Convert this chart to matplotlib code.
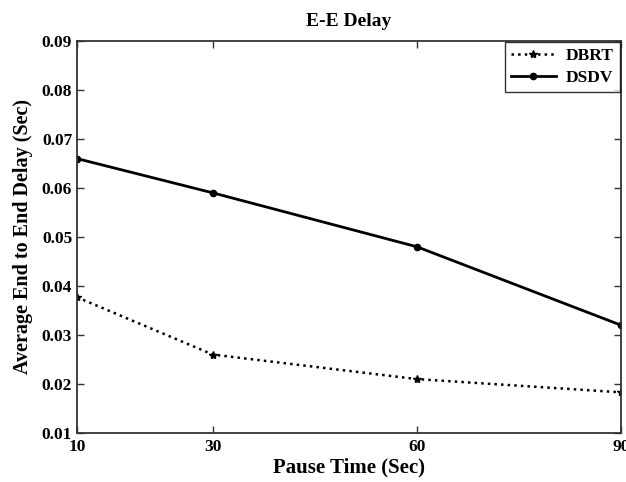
import matplotlib
matplotlib.use("Agg")
import matplotlib.pyplot as plt

pause_time = [10, 30, 60, 90]
dbrt = [0.0377, 0.026, 0.021, 0.0183]
dsdv = [0.066, 0.059, 0.048, 0.032]
yticks = [0.01, 0.02, 0.03, 0.04, 0.05, 0.06, 0.07, 0.08, 0.09]

plt.rcParams['font.family'] = ['Liberation Serif', 'DejaVu Serif']
plt.rcParams['font.weight'] = 'bold'

fig = plt.figure(figsize=(6.26, 4.82), dpi=100)
ax = fig.add_axes([77/626, 1-433/482, (621-77)/626, (433-41)/482])

ax.plot(pause_time, dbrt, linestyle=':', color='black', linewidth=1.8,
        marker='*', markersize=6, label='DBRT')
ax.plot(pause_time, dsdv, linestyle='-', color='black', linewidth=2.0,
        marker='o', markersize=4.5, label='DSDV')

ax.set_xlim(10, 90)
ax.set_ylim(0.01, 0.09)
ax.set_xticks(pause_time)
ax.set_xticklabels([str(v) for v in pause_time])
ax.set_yticks(yticks)
ax.set_yticklabels([f"{v:.2f}" for v in yticks])
ax.tick_params(direction='in', length=5, width=1, labelsize=12.5, top=True, right=True,
               color='#333333')
ax.tick_params(axis='x', pad=4)
for lab in ax.get_xticklabels() + ax.get_yticklabels():
    lab.set_fontweight('bold')
for s in ax.spines.values():
    s.set_linewidth(1.3)
    s.set_color('#333333')

ax.set_xlabel('Pause Time (Sec)', fontsize=15, fontweight='bold', labelpad=2)
ax.set_ylabel('Average End to End Delay (Sec)', fontsize=14.5, fontweight='bold', labelpad=6)
ax.set_title('E-E Delay', fontsize=14, fontweight='bold', pad=11)

leg = ax.legend(loc='upper right', fontsize=12.5, frameon=True, fancybox=False,
                edgecolor='black', borderaxespad=0.05, handlelength=2.6,
                handletextpad=0.6, borderpad=0.35, labelspacing=0.35)
leg.get_frame().set_linewidth(1.0)
for t in leg.get_texts():
    t.set_fontweight('bold')

fig.savefig('out.png', dpi=100)
